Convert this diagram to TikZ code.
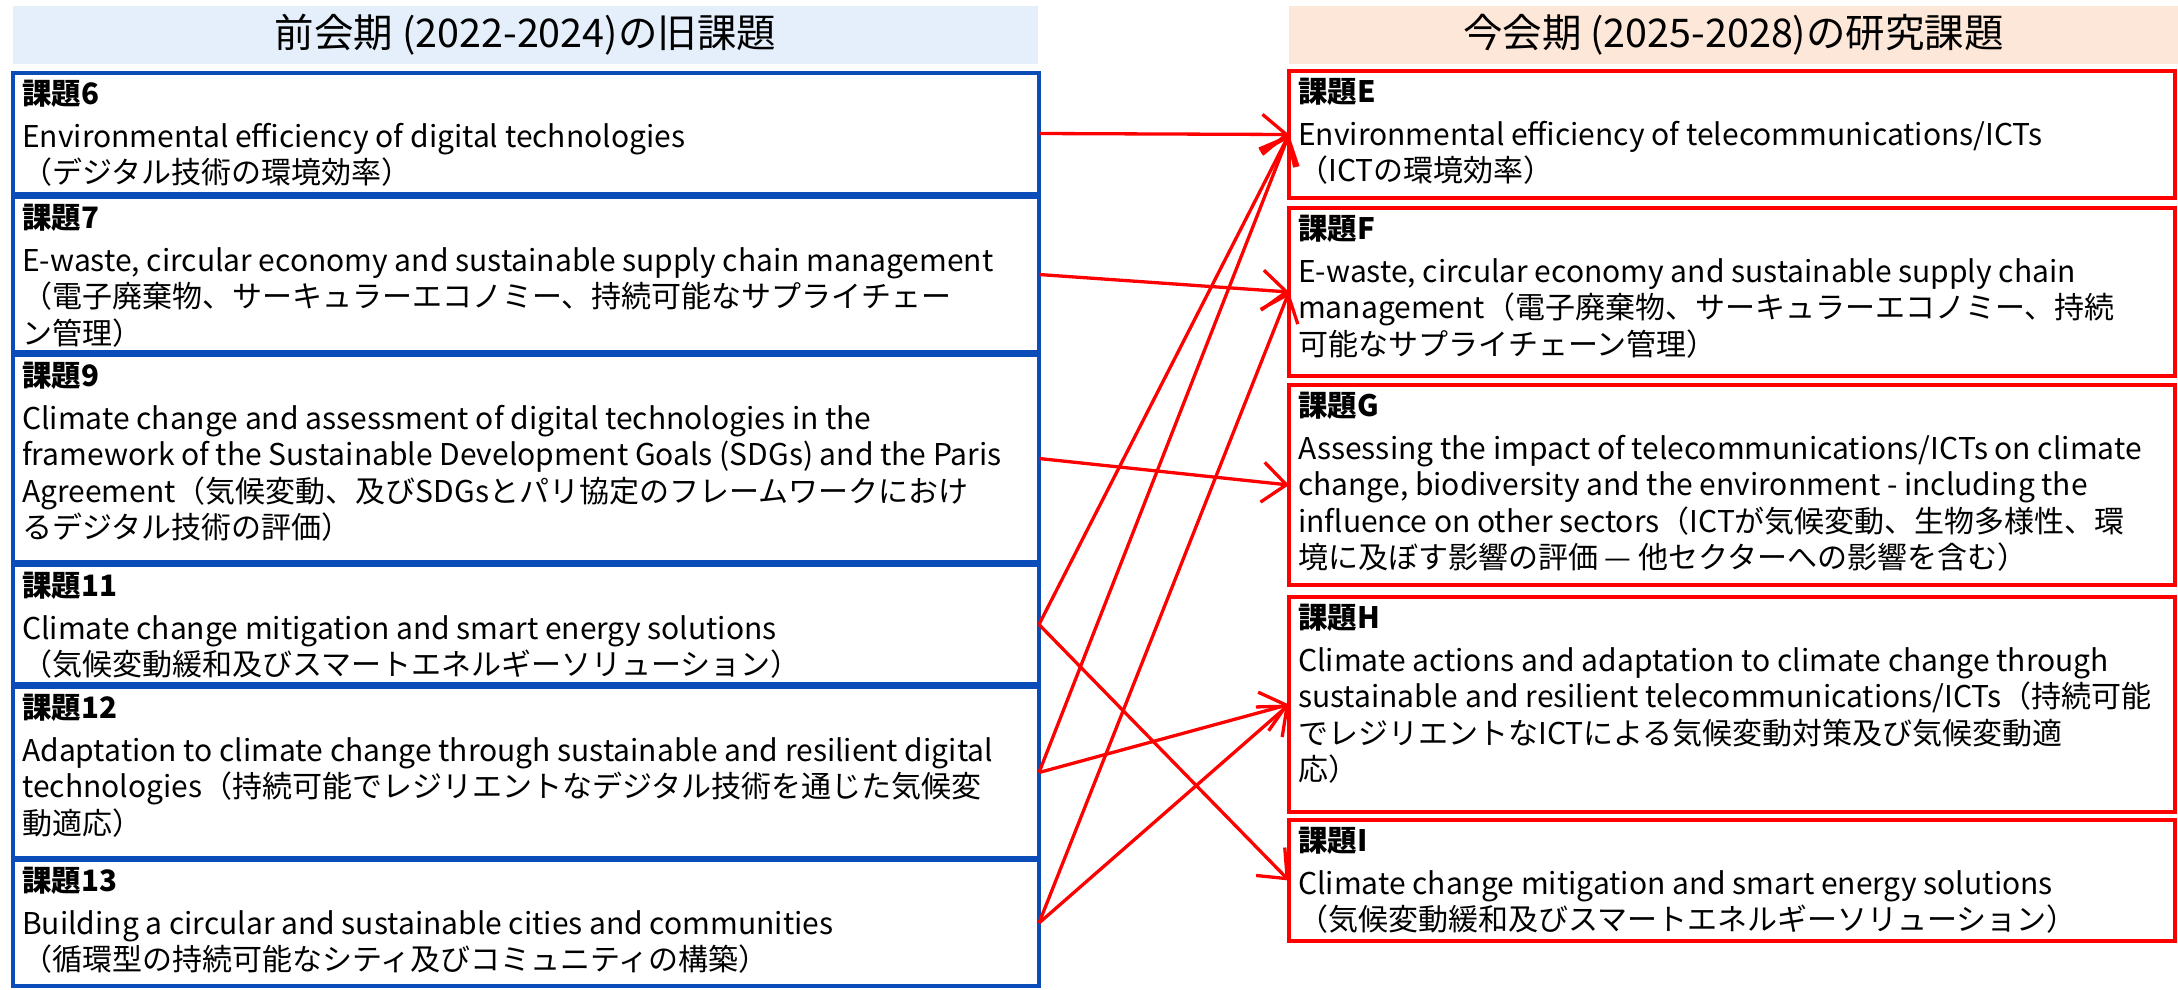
\documentclass[tikz,border=0pt]{standalone}
\usepackage{fontspec}
\setmainfont{Noto Sans CJK JP}
\usetikzlibrary{arrows.meta}
\definecolor{lblue}{HTML}{0A4DB8}
\definecolor{lhead}{HTML}{E4EFFB}
\definecolor{rhead}{HTML}{FCE7D9}
\definecolor{rred}{HTML}{FF0000}
\begin{document}
\begin{tikzpicture}[x=1pt,y=-1pt,
  lbox/.style={draw=lblue, line width=3.5pt, minimum width=1026pt, anchor=north west, inner sep=0pt, outer sep=0pt},
  rbox/.style={draw=rred, line width=3.5pt, minimum width=886pt, anchor=north west, inner sep=0pt, outer sep=0pt},
  hdr/.style={minimum height=58pt, anchor=north west, inner sep=0pt, outer sep=0pt, font=\fontsize{39.5}{42}\selectfont},
  tx/.style={anchor=north west, align=left, inner sep=0pt, font=\fontsize{30}{36.5}\selectfont},
  conn/.style={draw=rred, line width=3.3pt, -{Straight Barb[length=24pt, width=40pt]}}
]
\useasboundingbox (0,0) rectangle (2178,989);
\newcommand{\ttl}[1]{{\bfseries\fontsize{29.5}{36}\selectfont #1}\\[6pt]}
% headers
\node[hdr, fill=lhead, minimum width=1025pt] (hl) at (13,6) {前会期 (2022-2024)の旧課題};
\node[hdr, fill=rhead, minimum width=889pt] (hr) at (1289,6) {今会期 (2025-2028)の研究課題};
% left boxes
\node[lbox, minimum height=121pt] (b6) at (13,73) {};
\node[lbox, minimum height=155pt] (b7) at (13,197) {};
\node[lbox, minimum height=207pt] (b9) at (13,355) {};
\node[lbox, minimum height=119pt] (b11) at (13,565) {};
\node[lbox, minimum height=171pt] (b12) at (13,687) {};
\node[lbox, minimum height=126pt] (b13) at (13,860) {};
% right boxes
\node[rbox, minimum height=127pt] (rE) at (1289,71) {};
\node[rbox, minimum height=168pt] (rF) at (1289,208) {};
\node[rbox, minimum height=200pt] (rG) at (1289,385) {};
\node[rbox, minimum height=215pt] (rH) at (1289,597) {};
\node[rbox, minimum height=121pt] (rI) at (1289,820) {};
% left texts
\node[tx] (t6) at ([xshift=9pt,yshift=-7pt]b6.north west) {\ttl{課題6}Environmental efficiency of digital technologies\\（デジタル技術の環境効率）};
\node[tx] (t7) at ([xshift=9pt,yshift=-7pt]b7.north west) {\ttl{課題7}E-waste, circular economy and sustainable supply chain management\\（電子廃棄物、サーキュラーエコノミー、持続可能なサプライチェー\\ン管理）};
\node[tx] (t9) at ([xshift=9pt,yshift=-7pt]b9.north west) {\ttl{課題9}Climate change and assessment of digital technologies in the\\framework of the Sustainable Development Goals (SDGs) and the Paris\\Agreement（気候変動、及びSDGsとパリ協定のフレームワークにおけ\\るデジタル技術の評価）};
\node[tx] (t11) at ([xshift=9pt,yshift=-7pt]b11.north west) {\ttl{課題11}Climate change mitigation and smart energy solutions\\（気候変動緩和及びスマートエネルギーソリューション）};
\node[tx] (t12) at ([xshift=9pt,yshift=-7pt]b12.north west) {\ttl{課題12}Adaptation to climate change through sustainable and resilient digital\\technologies（持続可能でレジリエントなデジタル技術を通じた気候変\\動適応）};
\node[tx] (t13) at ([xshift=9pt,yshift=-7pt]b13.north west) {\ttl{課題13}Building a circular and sustainable cities and communities\\（循環型の持続可能なシティ及びコミュニティの構築）};
% right texts
\node[tx] (tE) at ([xshift=9pt,yshift=-7pt]rE.north west) {\ttl{課題E}Environmental efficiency of telecommunications/ICTs\\（ICTの環境効率）};
\node[tx] (tF) at ([xshift=9pt,yshift=-7pt]rF.north west) {\ttl{課題F}E-waste, circular economy and sustainable supply chain\\management（電子廃棄物、サーキュラーエコノミー、持続\\可能なサプライチェーン管理）};
\node[tx] (tG) at ([xshift=9pt,yshift=-7pt]rG.north west) {\ttl{課題G}Assessing the impact of telecommunications/ICTs on climate\\change, biodiversity and the environment - including the\\influence on other sectors（ICTが気候変動、生物多様性、環\\境に及ぼす影響の評価 — 他セクターへの影響を含む）};
\node[tx] (tH) at ([xshift=9pt,yshift=-7pt]rH.north west) {\ttl{課題H}Climate actions and adaptation to climate change through\\sustainable and resilient telecommunications/ICTs（持続可能\\でレジリエントなICTによる気候変動対策及び気候変動適\\応）};
\node[tx] (tI) at ([xshift=9pt,yshift=-7pt]rI.north west) {\ttl{課題I}Climate change mitigation and smart energy solutions\\（気候変動緩和及びスマートエネルギーソリューション）};
% connectors
\draw[conn] (b6.east) -- (rE.west);
\draw[conn] (b7.east) -- (rF.west);
\draw[conn] (b9.east) -- (rG.west);
\draw[conn] (b11.east) -- (rE.west);
\draw[conn] (b11.east) -- (rI.west);
\draw[conn] (b12.east) -- (rE.west);
\draw[conn] (b12.east) -- (rH.west);
\draw[conn] (b13.east) -- (rF.west);
\draw[conn] (b13.east) -- (rH.west);
\end{tikzpicture}
\end{document}
